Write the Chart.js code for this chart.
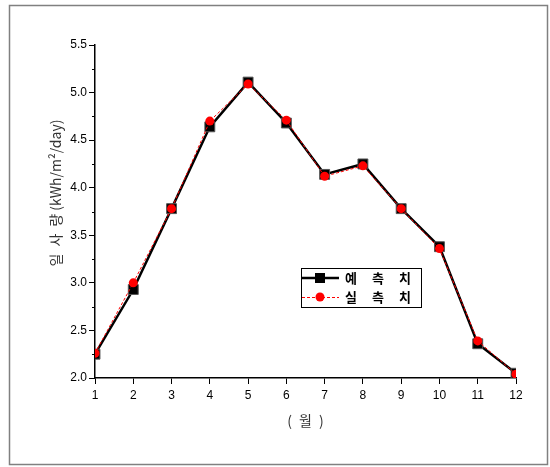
<!DOCTYPE html>
<html>
<head>
<meta charset="utf-8">
<script src="https://cdn.jsdelivr.net/npm/chart.js@4/dist/chart.umd.min.js"></script>
<style>
html,body{margin:0;padding:0;background:#fff;}
#wrap{width:550px;height:467px;position:relative;}
</style>
</head>
<body>
<div id="wrap"><canvas id="c" width="550" height="467"></canvas></div>
<script>
const months = [1,2,3,4,5,6,7,8,9,10,11,12];
const predicted = [2.25,2.93,3.78,4.64,5.11,4.68,4.14,4.25,3.78,3.38,2.36,2.05];
const measured  = [2.26,3.00,3.78,4.70,5.09,4.71,4.12,4.23,3.78,3.36,2.39,2.04];
const yTicks = [2.0,2.5,3.0,3.5,4.0,4.5,5.0,5.5];
const yMinorTicks = [2.25,2.75,3.25,3.75,4.25,4.75,5.25];
const legendLabels = ['예측치','실측치'];
const yTitle = '일\u2002사\u2002량 (kWh/m²/day)';
const xTitle = '(\u2002월\u2002)';

const tickFont = {family:'"Liberation Sans", Arial, sans-serif', size:12};

const decor = {
  id:'decor',
  beforeDraw(chart){
    const ctx = chart.ctx;
    ctx.save();
    ctx.fillStyle = '#fff';
    ctx.fillRect(0,0,chart.width,chart.height);
    ctx.strokeStyle = '#808080';
    ctx.lineWidth = 1.5;
    ctx.strokeRect(9.5,5.5,538,459);
    ctx.restore();
  },
  afterDraw(chart){
    const ctx = chart.ctx;
    const ys = chart.scales.y;
    const area = chart.chartArea;
    ctx.save();
    ctx.strokeStyle = '#000';
    ctx.lineWidth = 1;
    yMinorTicks.forEach(v=>{
      const p = Math.round(ys.getPixelForValue(v))+0.5;
      ctx.beginPath();
      ctx.moveTo(area.left-3,p);
      ctx.lineTo(area.left,p);
      ctx.stroke();
    });
    ctx.fillStyle = '#333';
    ctx.font = '14px "Noto Sans CJK KR", "Liberation Sans", sans-serif';
    ctx.textAlign = 'center';
    ctx.textBaseline = 'middle';
    ctx.save();
    ctx.translate(56,193);
    ctx.rotate(-Math.PI/2);
    ctx.fillText(yTitle,0,0);
    ctx.restore();
    ctx.fillText(xTitle,(area.left+area.right)/2,421);
    // legend
    const bx=301.5, by=268.5, bw=120, bh=39;
    ctx.strokeStyle = '#000';
    ctx.lineWidth = 1;
    ctx.strokeRect(bx,by,bw,bh);
    const rows = [278,297];
    ctx.strokeStyle='#000'; ctx.lineWidth=2.5; ctx.setLineDash([]);
    ctx.beginPath(); ctx.moveTo(302,rows[0]); ctx.lineTo(339,rows[0]); ctx.stroke();
    ctx.fillStyle='#000'; ctx.fillRect(315,rows[0]-5,10,10);
    ctx.strokeStyle='#ff0000'; ctx.lineWidth=1; ctx.setLineDash([3,2]);
    ctx.beginPath(); ctx.moveTo(302,rows[1]+0.5); ctx.lineTo(339,rows[1]+0.5); ctx.stroke();
    ctx.setLineDash([]);
    ctx.fillStyle='#ff0000'; ctx.beginPath(); ctx.arc(320,rows[1],4.5,0,Math.PI*2); ctx.fill();
    ctx.fillStyle='#000';
    ctx.font = 'bold 13px "Noto Sans CJK KR", sans-serif';
    ctx.textAlign='left';
    try{ ctx.letterSpacing='15px'; }catch(e){}
    ctx.fillText(legendLabels[0],345,rows[0]);
    ctx.fillText(legendLabels[1],345,rows[1]);
    ctx.restore();
  }
};

new Chart(document.getElementById('c'),{
  type:'line',
  data:{
    datasets:[
      {
        label:legendLabels[1],
        data:months.map((m,i)=>({x:m,y:measured[i]})),
        borderColor:'#ff0000',
        borderWidth:1,
        borderDash:[3,2],
        pointStyle:'circle',
        pointRadius:4.5,
        pointBackgroundColor:'#ff0000',
        pointBorderColor:'#ff0000',
        pointBorderWidth:0,
        tension:0,
        fill:false
      },
      {
        label:legendLabels[0],
        data:months.map((m,i)=>({x:m,y:predicted[i]})),
        borderColor:'#000',
        borderWidth:2.5,
        pointStyle:'rect',
        pointRadius:7,
        pointBackgroundColor:'#000',
        pointBorderColor:'#555',
        pointBorderWidth:1,
        tension:0,
        fill:false
      }
    ]
  },
  options:{
    responsive:false,
    animation:false,
    devicePixelRatio:1,
    layout:{padding:{left:0,right:34,top:45,bottom:0}},
    plugins:{legend:{display:false},tooltip:{enabled:false}},
    scales:{
      x:{
        type:'linear',
        min:1,max:12,
        afterFit(s){ s.height = 89; },
        afterBuildTicks(s){ s.ticks = months.map(v=>({value:v})); },
        grid:{drawOnChartArea:false,tickLength:6,color:'#000',lineWidth:1},
        border:{display:true,color:'#000',width:1.5},
        ticks:{color:'#000',font:tickFont,padding:4,maxRotation:0,autoSkip:false,callback:v=>String(v)}
      },
      y:{
        type:'linear',
        min:2,max:5.5,
        afterFit(s){ s.width = 95; },
        afterBuildTicks(s){ s.ticks = yTicks.map(v=>({value:v})); },
        grid:{drawOnChartArea:false,tickLength:6,color:'#000',lineWidth:1},
        border:{display:true,color:'#000',width:1.5},
        ticks:{color:'#000',font:tickFont,padding:2,autoSkip:false,callback:v=>Number(v).toFixed(1)}
      }
    }
  },
  plugins:[decor]
});
</script>
</body>
</html>
